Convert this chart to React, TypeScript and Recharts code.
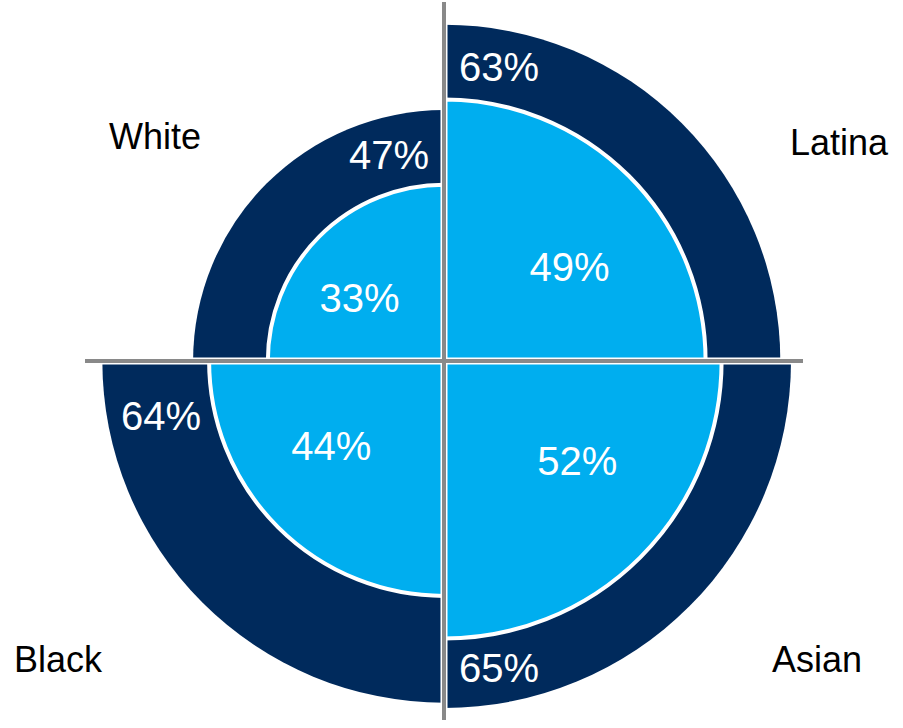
import React from 'react';
import {
  RadialBarChart,
  RadialBar,
  PolarAngleAxis,
  PolarRadiusAxis,
  PolarGrid,
  LabelList,
} from 'recharts';

// ---- data ----
const categories = ['Latina', 'Asian', 'Black', 'White'];
const outerValues = [63, 65, 64, 47];
const innerValues = [49, 52, 44, 33];

// ---- presentation config (not data) ----
const outerLabelAxis = ['vertical', 'vertical', 'horizontal', 'vertical'];
const categoryLabelPos = [
  { x: 839, y: 155 },
  { x: 817, y: 672 },
  { x: 58, y: 672 },
  { x: 155, y: 149 },
];

const W = 903;
const H = 728;
const CX = 444;
const CY = 361;
const RADIUS_MAX = 65;
const BAR_RADIUS = 347;
const GRID_RADIUS = 359;
const NAVY = '#002A5C';
const SKY = '#00AEEF';
const GRID = '#898989';
const FONT = '"Liberation Sans", Arial, Helvetica, sans-serif';
const PCT_SIZE = 40;
const EDGE_GAP = 55;
const INNER_LABEL_ANGLE_FRAC = 0.41; // fraction of sector span measured from the horizontal edge

const data = categories.map((name, i) => ({
  name,
  outer: outerValues[i],
  inner: innerValues[i],
}));

const RAD = Math.PI / 180;
const unit = (deg: number) => ({ x: Math.cos(deg * RAD), y: -Math.sin(deg * RAD) });
const isVertical = (deg: number) => Math.abs(Math.sin(deg * RAD)) > 0.5;

const InnerLabel = (props: any) => {
  const { viewBox, value } = props;
  if (!viewBox || viewBox.outerRadius == null) return null;
  const { cx, cy, outerRadius, startAngle, endAngle } = viewBox;
  const span = Math.abs(endAngle - startAngle) * RAD;
  const rc = (4 * outerRadius * Math.sin(span / 2)) / (3 * span);
  const hEdge = isVertical(startAngle) ? endAngle : startAngle;
  const vEdge = hEdge === startAngle ? endAngle : startAngle;
  const ang = hEdge + (vEdge - hEdge) * INNER_LABEL_ANGLE_FRAC;
  const u = unit(ang);
  return (
    <text
      x={cx + u.x * rc}
      y={cy + u.y * rc}
      dy="0.35em"
      textAnchor="middle"
      fill="#fff"
      fontSize={PCT_SIZE}
      fontFamily={FONT}
    >
      {value}%
    </text>
  );
};

const OuterLabel = (props: any) => {
  const { viewBox, value } = props;
  if (!viewBox || viewBox.outerRadius == null) return null;
  const idx = outerValues.indexOf(Number(value));
  if (idx < 0) return null;
  const { cx, cy, outerRadius, startAngle, endAngle } = viewBox;
  const innerR = (outerRadius * innerValues[idx]) / outerValues[idx];
  const rm = (outerRadius + innerR) / 2;
  const wantVertical = outerLabelAxis[idx] === 'vertical';
  let edge = startAngle;
  let other = endAngle;
  if (isVertical(startAngle) !== wantVertical) {
    edge = endAngle;
    other = startAngle;
  }
  const ue = unit(edge);
  const uo = unit(other);
  const along = Math.sqrt(Math.max(rm * rm - EDGE_GAP * EDGE_GAP, 0));
  return (
    <text
      x={cx + ue.x * along + uo.x * EDGE_GAP}
      y={cy + ue.y * along + uo.y * EDGE_GAP}
      dy="0.35em"
      textAnchor="middle"
      fill="#fff"
      fontSize={PCT_SIZE}
      fontFamily={FONT}
    >
      {value}%
    </text>
  );
};

const layerStyle: React.CSSProperties = { position: 'absolute', left: 0, top: 0 };
const margin = { top: 0, right: 0, bottom: 0, left: 0 };

const chartProps = {
  width: W,
  height: H,
  cx: CX,
  cy: CY,
  innerRadius: 0,
  startAngle: 0,
  endAngle: -360,
  data,
  layout: 'centric' as const,
  barCategoryGap: 0,
  margin,
};

export default function App() {
  return (
    <div style={{ position: 'absolute', left: 0, top: 0, width: W, height: H, background: '#fff' }}>
      <div style={layerStyle}>
        <RadialBarChart {...chartProps} outerRadius={BAR_RADIUS}>
          <PolarAngleAxis type="category" dataKey="name" tick={false} axisLine={false} />
          <PolarRadiusAxis type="number" domain={[0, RADIUS_MAX]} allowDataOverflow tick={false} axisLine={false} />
          <RadialBar dataKey="outer" fill={NAVY} isAnimationActive={false}>
            <LabelList dataKey="outer" content={OuterLabel} />
          </RadialBar>
        </RadialBarChart>
      </div>
      <div style={layerStyle}>
        <RadialBarChart {...chartProps} outerRadius={BAR_RADIUS}>
          <PolarAngleAxis type="category" dataKey="name" tick={false} axisLine={false} />
          <PolarRadiusAxis type="number" domain={[0, RADIUS_MAX]} allowDataOverflow tick={false} axisLine={false} />
          <RadialBar dataKey="inner" fill={SKY} stroke="#ffffff" strokeWidth={4} isAnimationActive={false}>
            <LabelList dataKey="inner" content={InnerLabel} />
          </RadialBar>
        </RadialBarChart>
      </div>
      <div style={layerStyle}>
        <RadialBarChart {...chartProps} outerRadius={GRID_RADIUS}>
          <PolarAngleAxis type="category" dataKey="name" tick={false} axisLine={false} />
          <PolarRadiusAxis type="number" domain={[0, RADIUS_MAX]} allowDataOverflow tick={false} axisLine={false} />
          <PolarGrid gridType="circle" polarAngles={[0, 90, 180, 270]} polarRadius={[0]} stroke="#ffffff" strokeWidth={7} />
          <PolarGrid gridType="circle" polarAngles={[0, 90, 180, 270]} polarRadius={[0]} stroke={GRID} strokeWidth={4} />
        </RadialBarChart>
      </div>
      <svg width={W} height={H} style={{ ...layerStyle, pointerEvents: 'none' }}>
        {categories.map((name, i) => (
          <text
            key={name}
            x={categoryLabelPos[i].x}
            y={categoryLabelPos[i].y}
            textAnchor="middle"
            fontSize={36}
            fontFamily={FONT}
            fill="#000"
          >
            {name}
          </text>
        ))}
      </svg>
    </div>
  );
}
